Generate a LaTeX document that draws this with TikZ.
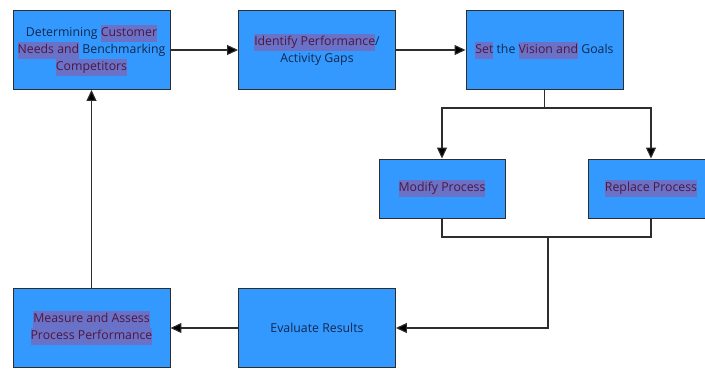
\documentclass[tikz,border=0pt]{standalone}
\usepackage{fontspec}
\setmainfont{Open Sans}
\usetikzlibrary{arrows.meta}
\definecolor{boxblue}{RGB}{51,153,255}
\definecolor{hlfill}{RGB}{106,114,200}
\definecolor{hltext}{RGB}{80,22,62}
\definecolor{plaintext}{RGB}{18,40,78}
\definecolor{linegray}{RGB}{45,45,45}
\newcommand{\hl}[1]{{\fboxsep=0pt\colorbox{hlfill}{\strut\textcolor{hltext}{#1}}}}
\tikzset{
  stepbox/.style={draw=linegray, line width=0.9pt, fill=boxblue, align=center,
    text=plaintext, font=\fontsize{12.3}{17}\selectfont,
    minimum width=157pt, minimum height=79pt, inner sep=0pt},
  smallbox/.style={stepbox, minimum width=126pt, minimum height=59pt},
  link/.style={draw=linegray, line width=1.1pt, -{Triangle[length=11pt,width=10pt,fill=black]}},
  joint/.style={draw=linegray, line width=1.1pt}
}
\begin{document}
\begin{tikzpicture}[x=1pt,y=-1pt]
\useasboundingbox (0,0) rectangle (705,368);
\clip (0,0) rectangle (705,368);

\node [stepbox] (needs) at (91.5,50) {Determining \hl{Customer}\\\hl{Needs and} Benchmarking\\\hl{Competitors}};
\node [stepbox] (gaps) at (317,50) {\hl{Identify Performance}/\\Activity Gaps};
\node [stepbox] (vision) at (544.5,50) {\hl{Set} the \hl{Vision and} Goals};
\node [smallbox] (modify) at (442,188.5) {\hl{Modify Process}};
\node [smallbox] (replace) at (651,188.5) {\hl{Replace Process}};
\node [stepbox] (measure) at (91.5,328) {\hl{Measure and Assess}\\\hl{Process Performance}};
\node [stepbox] (evaluate) at (317,328) {Evaluate Results};

\coordinate (split) at (544.5,108);
\coordinate (merge) at (548,237);

\draw [link] (needs) -- (gaps);
\draw [link] (gaps) -- (vision);
\draw [joint] (vision.south) -- (split);
\draw [link] (split) -| (modify.north);
\draw [link] (split) -| (replace.north);
\draw [joint] (modify.south) |- (merge);
\draw [joint] (replace.south) |- (merge);
\draw [link] (merge) |- (evaluate.east);
\draw [link] (evaluate) -- (measure);
\draw [link] (measure) -- (needs);

\end{tikzpicture}
\end{document}
